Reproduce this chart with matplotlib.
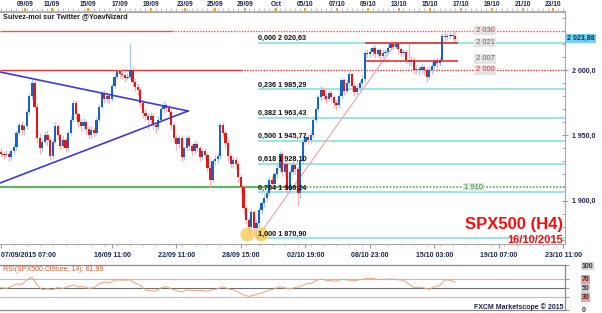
import numpy as np
import matplotlib
matplotlib.use("Agg")
import matplotlib.pyplot as plt
import matplotlib.transforms as mtrans
from matplotlib.ticker import MultipleLocator

plt.rcParams['font.family'] = ['Liberation Sans', 'DejaVu Sans']

# ---------------- data (H4 candles, SPX500) ----------------
first_open = 1937
closes = [1936,1935,1936,1933,1938,1941,1952,1958,1954,1957,
          1968,1980,1990,1972,1948,1940,1945,1950,1946,1934,
          1945,1957,1950,1942,1946,1940,1952,1962,1975,1966,
          1960,1957,1960,1955,1950,1954,1952,1962,1972,1982,
          1978,1980,1978,1988,1995,1999,1997,1996,1994,1995,
          2000,1991,1987,1985,1975,1967,1965,1962,1965,1958,
          1956,1962,1970,1973,1971,1968,1958,1948,1943,1948,
          1933,1940,1948,1942,1938,1943,1940,1933,1938,1935,
          1925,1916,1930,1932,1934,1958,1952,1944,1934,1928,
          1931,1928,1918,1910,1894,1885,1880,1891,1879,1883,
          1893,1898,1902,1906,1916,1913,1920,1925,1936,1922,
          1928,1908,1922,1927,1924,1906,1930,1945,1949,1946,
          1950,1962,1970,1979,1985,1980,1978,1982,1979,1975,
          1973,1980,1992,1984,1990,1997,1988,1983,1986,1990,
          1993,2013,2012,2014,2017,2012,2015,2011,2013,2014,
          2017,2020,2018,2020,2016,2013,2014,2008,2006,2008,
          2000,2001,2000,2002,2000,1995,2000,2003,2007,2005,
          2008,2026,2025,2026,2027,2026,2023.88]
highs = [1940,1938,1939,1938,1940,1944,1954,1960,1961,1959,
         1970,1982,1993,1992,1975,1952,1948,1953,1954,1948,
         1947,1960,1959,1952,1950,1948,1954,1965,1977,1977,
         1968,1963,1963,1962,1957,1957,1956,1964,1974,1984,
         1985,1983,1982,1990,1997,2001,2001,1999,1998,1998,
         2021,2002,1994,1990,1987,1977,1970,1967,1968,1967,
         1960,1965,1972,1976,1975,1973,1970,1960,1950,1950,
         1950,1942,1950,1950,1944,1946,1945,1942,1940,1940,
         1937,1927,1932,1935,1937,1960,1960,1954,1946,1936,
         1934,1933,1930,1920,1912,1896,1887,1894,1893,1886,
         1895,1900,1905,1909,1918,1919,1922,1928,1938,1937,
         1931,1930,1925,1930,1929,1926,1932,1947,1951,1951,
         1953,1964,1972,1981,1988,1987,1982,1985,1984,1981,
         1977,1982,1994,1994,1993,1999,1998,1990,1989,1992,
         1996,2015,2016,2017,2019,2019,2017,2017,2016,2016,
         2019,2020.5,2020.4,2020.63,2020.5,2018,2016,2016,2020.6,2011,
         2010,2004,2003,2005,2004,2002,2003,2006,2009,2009,
         2010,2028,2029,2028,2029,2029,2030]
lows = [1933,1932,1933,1930,1931,1936,1939,1950,1950,1950,
        1955,1966,1978,1970,1944,1936,1937,1943,1942,1931,
        1932,1943,1947,1939,1940,1937,1938,1950,1960,1962,
        1956,1953,1954,1951,1947,1948,1949,1950,1960,1970,
        1975,1975,1974,1976,1986,1993,1994,1993,1991,1992,
        1993,1988,1984,1981,1972,1963,1961,1955,1958,1955,
        1952,1954,1960,1967,1968,1965,1955,1945,1939,1940,
        1930,1931,1938,1939,1935,1936,1937,1930,1931,1932,
        1922,1910,1914,1927,1929,1932,1949,1940,1930,1925,
        1925,1924,1914,1906,1890,1882,1873,1877,1873,1870.9,
        1880,1890,1895,1900,1904,1910,1910,1917,1922,1919,
        1919,1905,1906,1920,1920,1896,1902,1928,1943,1943,
        1944,1948,1960,1968,1977,1977,1975,1976,1976,1972,
        1969,1971,1978,1981,1982,1988,1985,1980,1981,1984,
        1988,1991,2009,2010,2011,2009,2010,2008,2009,2011,
        2012,2015,2015,2016,2013,2010,2011,2005,2003,2003,
        1997,1997,1996,1997,1996,1991,1993,1997,2001,1999,
        2003,2006,2022,2023,2024,2023,2021]

# RSI(14) read every second bar
rsi_bars = list(range(0, 177, 2))
rsi_vals = [50,48,52,58,57,66,73,55,45,47,
            45,50,48,52,56,51,52,48,50,58,
            62,60,66,67,66,67,60,55,44,43,
            42,49,52,47,43,40,45,43,44,43,
            42,45,47,52,47,45,40,34,30,33,
            36,40,44,47,52,49,47,50,52,58,
            59,65,69,66,65,64,68,67,65,66,
            68,71,70,68,68,69,69,67,66,58,
            50,51,49,46,52,54,67,66,61.99]

# axis labels (positions in bar index)
top_labels = ['09/09','11/09','15/09','17/09','19/09','23/09','25/09','29/09','Oct',
              '05/10','07/10','09/10','13/10','15/10','17/10','19/10','21/10','23/10']
top_pos = [9.3,19.8,33.7,46.1,58.1,71.3,82.9,94.6,106.6,
           117.8,130.2,142.2,154.3,166.3,178.3,190.3,202.3,214.0]
bottom_labels = ['07/09/2015 07:00','16/09 11:00','22/09 11:00','28/09 15:00','02/10 19:00',
                 '08/10 23:00','15/10 03:00','19/10 07:00','23/10 11:00']
bottom_pos = [0,43,68,93,118,143,168,193,218]
price_ticks = [1900, 1950, 2000]
price_tick_labels = ['1 900,0', '1 950,0', '2 000,0']
last_price = 2023.88

# annotations
fib_anchor_bars = [99, 153]          # swing low bar, swing high bar
fib_ratios = [0.0, 0.236, 0.382, 0.5, 0.618, 0.764, 1.0]
res_2030 = 2030
sup_2000 = 2000
sup_1910 = 1910
range_top = 2021
range_bot = 2007
range_bars = [141, 177]
tri_bars = [-0.39, 72.5]
tri_upper = [1998.5, 1968.6]
tri_lower = [1913.4, 1968.6]
circle_bars = [95.3, 100.8]
circle_price = 1874.5

# ---------------- figure ----------------
W, H = 602, 313
fig = plt.figure(figsize=(W/100, H/100), dpi=100)
fig.patch.set_facecolor('white')

def px_axes(x0, y0, x1, y1):
    return fig.add_axes([x0/W, 1 - y1/H, (x1-x0)/W, (y1-y0)/H])

TOP = 11.5
ax = px_axes(0, TOP, 565, 244)
axr = px_axes(0, 265, 565, 310)
XL = (-0.39, 218.6)
ax.set_xlim(*XL)
ax.set_ylim(2000 - (244 - 70) / 1.305, 2000 + (70 - TOP) / 1.305)
axr.set_xlim(*XL)
axr.set_ylim(0, 100)

def fr(v, nd):
    s = f"{v:,.{nd}f}"
    return s.replace(',', ' ').replace('.', ',')

navy = '#1b2450'

# ---------- horizontal levels ----------
ax.hlines(res_2030, XL[0], 66.3, color='#f05050', lw=1.0, zorder=1)
ax.hlines(res_2030, 66.3, XL[1], color='#f05050', lw=1.0, linestyles=(0, (1, 1)), zorder=1)
ax.hlines(sup_2000, XL[0], 93, color='#f03030', lw=1.0, zorder=1)
ax.hlines(sup_2000, 93, XL[1], color='#f03030', lw=1.0, linestyles=(0, (1, 1)), zorder=1)
ax.hlines(sup_1910, XL[0], 117, color='#5cb85c', lw=1.6, zorder=1)
ax.hlines(sup_1910, 117, XL[1], color='#4caf50', lw=1.2, linestyles=(0, (1, 1)), zorder=1)

# Fibonacci retracement
lows_a = np.array(lows); highs_a = np.array(highs)
lo_i, hi_i = fib_anchor_bars
lo_v = lows_a[lo_i]; hi_v = highs_a[hi_i]
fib_levels = [hi_v - r * (hi_v - lo_v) for r in fib_ratios]
fib_start = lo_i + 0.5
ax.hlines(fib_levels, fib_start, XL[1], color='#86e0e0', lw=1.2, zorder=1)
for r, lv in zip(fib_ratios, fib_levels):
    ax.text(fib_start, lv + 0.6, f"{r:.3f}".replace('.', ',') + ' ' + fr(lv, 2),
            fontsize=5.2, fontweight='bold', color='#111111', ha='left', va='bottom', zorder=4)
ax.plot([lo_i, hi_i], [lo_v, hi_v], color='#f5a0a0', lw=0.8, zorder=1)

# triangle
ax.plot(tri_bars, tri_upper, color='#3a3ae0', lw=1.2, zorder=3)
ax.plot(tri_bars, tri_lower, color='#3a3ae0', lw=1.2, zorder=3)

# range lines
ax.hlines([range_top, range_bot], range_bars[0], range_bars[1], color='#ee2020', lw=1.1, zorder=3)

# ---------- candles ----------
idx = np.arange(len(closes))
c = np.array(closes, dtype=float)
o = np.array([first_open] + closes[:-1], dtype=float)
up = c >= o
dn = ~up
body = np.where(np.abs(c - o) < 0.8, np.where(up, 0.8, -0.8), c - o)
ax.vlines(idx[up], lows_a[up], highs_a[up], color='#a9c8ee', lw=0.9, zorder=2)
ax.vlines(idx[dn], lows_a[dn], highs_a[dn], color='#f6b0b0', lw=0.9, zorder=2)
ax.bar(idx[up], body[up], bottom=o[up], width=0.85, color='#1563c6', lw=0, zorder=2.5)
ax.bar(idx[dn], body[dn], bottom=o[dn], width=0.85, color='#e81515', lw=0, zorder=2.5)

# double bottom circles
ax.scatter(circle_bars, [circle_price]*len(circle_bars), s=95, color='#f6c94a',
           alpha=0.75, edgecolors='#f3d98a', linewidths=0.6, zorder=3)

# level labels
lab_box = dict(fc='#e4e4e4', ec='none', pad=0.8)
ax.text(187.6, res_2030, fr(res_2030, 0), fontsize=5.5, color='#e83030', ha='center', va='center', bbox=lab_box, zorder=5)
ax.text(187.6, range_top, fr(range_top, 0), fontsize=5.5, color='#666666', ha='center', va='center', bbox=lab_box, zorder=5)
ax.text(187.6, range_bot + 1.5, fr(range_bot, 0), fontsize=5.5, color='#666666', ha='center', va='center', bbox=lab_box, zorder=5)
ax.text(187.6, sup_2000, fr(sup_2000, 0), fontsize=5.5, color='#e83030', ha='center', va='center', bbox=lab_box, zorder=5)
ax.text(183.0, sup_1910, fr(sup_1910, 0), fontsize=5.5, color='#2e9a2e', ha='center', va='center', bbox=lab_box, zorder=5)

# ---------- axes styling main ----------
ax.spines['left'].set_visible(False)
for s in ['top', 'bottom', 'right']:
    ax.spines[s].set_color('#a8a8a8')
    ax.spines[s].set_linewidth(0.8)

ax.set_xticks(bottom_pos, labels=bottom_labels, fontsize=5, fontweight='bold', color=navy)
ax.xaxis.set_minor_locator(MultipleLocator(5))
ax.tick_params(axis='x', which='major', length=3, color='#999999', pad=2.5)
ax.tick_params(axis='x', which='minor', length=1.5, color='#bbbbbb')
ax.get_xticklabels()[0].set_horizontalalignment('left')

ax.yaxis.tick_right()
ax.set_yticks(price_ticks, labels=price_tick_labels, fontsize=5, fontweight='bold', color=navy)
ax.yaxis.set_minor_locator(MultipleLocator(10))
ax.tick_params(axis='y', which='major', length=4, direction='inout', color='#999999', pad=3)
ax.tick_params(axis='y', which='minor', length=2, direction='in', color='#999999')

top = ax.secondary_xaxis('top')
top.set_xticks(top_pos, labels=top_labels, fontsize=4.8, fontweight='bold', color=navy)
top.xaxis.set_minor_locator(MultipleLocator(2))
top.tick_params(axis='x', which='major', length=2.5, width=1.4, color='#f0a020', pad=0.2)
top.tick_params(axis='x', which='minor', length=2, width=0.6, color='#b5b5b5')
top.spines['top'].set_color('#b5b5b5')
top.spines['top'].set_linewidth(0.8)

blend = mtrans.blended_transform_factory(ax.transAxes, ax.transData)
ax.text(1.004, last_price, fr(last_price, 2), transform=blend, fontsize=5, fontweight='bold',
        color=navy, ha='left', va='center', bbox=dict(fc='#72d2f2', ec='none', pad=0.8), zorder=6,
        clip_on=False)

# ---------- RSI panel ----------
axr.axhline(70, color='#f4a6a6', lw=0.8)
axr.axhline(30, color='#f4a6a6', lw=0.8)
axr.axhline(50, color='#6e6e6e', lw=0.8)
axr.plot(rsi_bars, rsi_vals, color='#f2a27c', lw=0.7)
axr.spines['left'].set_visible(False)
for s in ['top', 'bottom', 'right']:
    axr.spines[s].set_color('#8a8a8a')
    axr.spines[s].set_linewidth(0.9)
axr.set_xticks([])
axr.yaxis.tick_right()
rsi_ticks = [0, 30, 50, 70, 100]
axr.set_yticks(rsi_ticks, labels=[str(t) for t in rsi_ticks], fontsize=5, fontweight='bold', color='#333333')
axr.tick_params(axis='y', length=3, color='#999999', pad=9)
box_cols = {0: None, 30: '#f49a9a', 50: '#d6d6d6', 70: '#f49a9a', 100: '#d6d6d6'}
for t, lbl in zip(rsi_ticks, axr.get_yticklabels()):
    if box_cols[t]:
        lbl.set_bbox(dict(fc=box_cols[t], ec='none', pad=0.6))
axr.text(0.006, 0.97, 'RSI(SPX500.Clôture, 14): ' + fr(rsi_vals[-1], 2), transform=axr.transAxes,
         fontsize=5, color='#e0552a', ha='left', va='top')

# ---------- free texts ----------
fig.text(3/W, 1 - 17/H, 'Suivez-moi sur Twitter @YoavNizard', fontsize=5.2, fontweight='bold',
         color='#1e1e1e', ha='left', va='center')
fig.text(563/W, 1 - 225/H, 'SPX500 (H4)', fontsize=12, fontweight='bold', color='#ff0a0a',
         ha='right', va='center')
fig.text(563/W, 1 - 240/H, '16/10/2015', fontsize=8, fontweight='bold', color='#ff0a0a',
         ha='right', va='center')
fig.text(563/W, 1 - 307/H, 'FXCM Marketscope © 2015', fontsize=5, fontweight='bold',
         color=navy, ha='right', va='center')

fig.savefig('out.png', dpi=100)
